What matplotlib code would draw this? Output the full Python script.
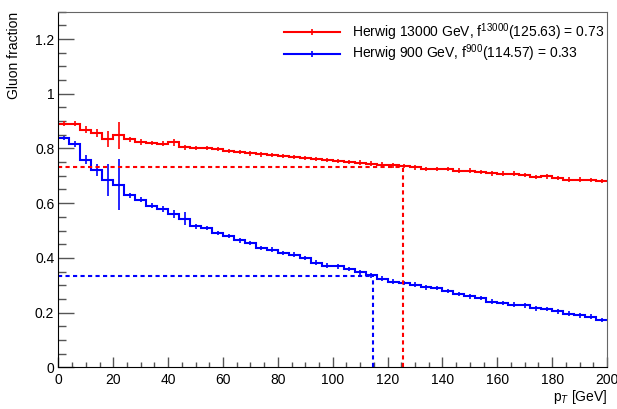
import numpy as np
import matplotlib
matplotlib.use('Agg')
import matplotlib.pyplot as plt
from matplotlib.lines import Line2D
from matplotlib.ticker import MultipleLocator, FormatStrFormatter

plt.rcParams['font.family'] = ['Liberation Sans', 'DejaVu Sans']
plt.rcParams['mathtext.fontset'] = 'custom'
plt.rcParams['mathtext.rm'] = 'Liberation Sans'
plt.rcParams['mathtext.it'] = 'Liberation Sans:italic'

# pT binning: 50 bins of 4 GeV
edges = np.arange(0, 201, 4)

# gluon fraction per pT bin, 13 TeV
frac_13000 = [0.891, 0.891, 0.869, 0.857, 0.835, 0.848, 0.833, 0.823, 0.820, 0.817,
              0.822, 0.804, 0.801, 0.802, 0.797, 0.791, 0.787, 0.782, 0.778, 0.775,
              0.772, 0.769, 0.766, 0.761, 0.758, 0.754, 0.751, 0.748, 0.745, 0.741,
              0.738, 0.735, 0.731, 0.726, 0.724, 0.724, 0.719, 0.719, 0.713, 0.709,
              0.708, 0.708, 0.702, 0.696, 0.698, 0.692, 0.686, 0.686, 0.684, 0.682]
err_13000 = [0.008, 0.008, 0.012, 0.014, 0.028, 0.050, 0.009, 0.012, 0.008, 0.009,
             0.014, 0.010, 0.008, 0.008, 0.008, 0.008, 0.008, 0.008, 0.008, 0.008,
             0.008, 0.008, 0.008, 0.008, 0.008, 0.008, 0.008, 0.008, 0.008, 0.008,
             0.008, 0.008, 0.008, 0.008, 0.008, 0.008, 0.008, 0.008, 0.008, 0.008,
             0.008, 0.008, 0.008, 0.008, 0.008, 0.008, 0.008, 0.008, 0.008, 0.008]

# gluon fraction per pT bin, 900 GeV
frac_900 = [0.839, 0.817, 0.759, 0.720, 0.686, 0.668, 0.629, 0.613, 0.591, 0.579,
            0.560, 0.543, 0.515, 0.509, 0.492, 0.479, 0.464, 0.454, 0.436, 0.430,
            0.418, 0.412, 0.399, 0.383, 0.372, 0.369, 0.359, 0.347, 0.336, 0.324,
            0.313, 0.308, 0.302, 0.292, 0.289, 0.280, 0.269, 0.259, 0.253, 0.240,
            0.236, 0.229, 0.226, 0.215, 0.212, 0.204, 0.196, 0.190, 0.185, 0.174]
err_900 = [0.008, 0.010, 0.016, 0.022, 0.058, 0.094, 0.009, 0.009, 0.010, 0.012,
           0.016, 0.024, 0.008, 0.008, 0.008, 0.008, 0.008, 0.008, 0.008, 0.008,
           0.008, 0.008, 0.008, 0.008, 0.008, 0.008, 0.008, 0.008, 0.008, 0.008,
           0.008, 0.008, 0.008, 0.008, 0.008, 0.008, 0.008, 0.008, 0.008, 0.008,
           0.008, 0.008, 0.008, 0.008, 0.008, 0.008, 0.008, 0.008, 0.008, 0.008]

# working points (pT, fraction)
wp_13000 = (125.63, 0.734)
wp_900 = (114.57, 0.334)

labels = ['Herwig 13000 GeV, f$^{13000}$(125.63) = 0.73',
          'Herwig 900 GeV, f$^{900}$(114.57) = 0.33']

fig = plt.figure(figsize=(6.17, 4.09), dpi=100)
ax = fig.add_axes([0.0948, 0.102, 0.8890, 0.8694])

centers = 0.5 * (edges[:-1] + edges[1:])
handles = []
for frac, err, col in [(frac_13000, err_13000, 'red'), (frac_900, err_900, 'blue')]:
    ax.stairs(frac, edges, color=col, lw=1.5, baseline=None)
    ax.errorbar(centers, frac, yerr=err, fmt='none', ecolor=col, elinewidth=1.2)
    handles.append((Line2D([], [], color=col, lw=1.5),
                    Line2D([], [], color=col, ls='none', marker='|', markersize=5, mew=1.2)))

# dashed guides to the working points
for (x0, y0), col in [(wp_13000, 'red'), (wp_900, 'blue')]:
    ax.plot([0, x0], [y0, y0], color=col, lw=1.5, dashes=(2, 1.6))
    ax.plot([x0, x0], [0, y0], color=col, lw=1.5, dashes=(2, 1.6))

ax.set_xlim(0, 200)
ax.set_ylim(0, 1.3)
ax.xaxis.set_major_locator(MultipleLocator(20))
ax.xaxis.set_minor_locator(MultipleLocator(5))
ax.yaxis.set_major_locator(MultipleLocator(0.2))
ax.yaxis.set_minor_locator(MultipleLocator(0.05))
ax.yaxis.set_major_formatter(FormatStrFormatter('%g'))
ax.tick_params(axis='both', which='both', direction='in', color='#555555',
               labelsize=10, top=False, right=False)
ax.tick_params(axis='y', which='major', length=11.5, width=1, pad=3)
ax.tick_params(axis='y', which='minor', length=5.8, width=1)
ax.tick_params(axis='x', which='major', length=7.2, width=1, pad=4)
ax.tick_params(axis='x', which='minor', length=3.6, width=1)
for side in ['top', 'right']:
    ax.spines[side].set_color('#666666')
for side in ['left', 'bottom']:
    ax.spines[side].set_color('black')

ax.set_xlabel('p$_{T}$ [GeV]', fontsize=10, loc='right', labelpad=1)
ax.set_ylabel('Gluon fraction', fontsize=10, loc='top', labelpad=10)

ax.legend(handles, labels, loc='upper left', bbox_to_anchor=(0.461, 0.948),
          bbox_transform=fig.transFigure, frameon=False, fontsize=10,
          handlelength=4.0, handletextpad=0.85, labelspacing=0.0,
          borderaxespad=0, borderpad=0)

fig.savefig('out.png', dpi=100)
